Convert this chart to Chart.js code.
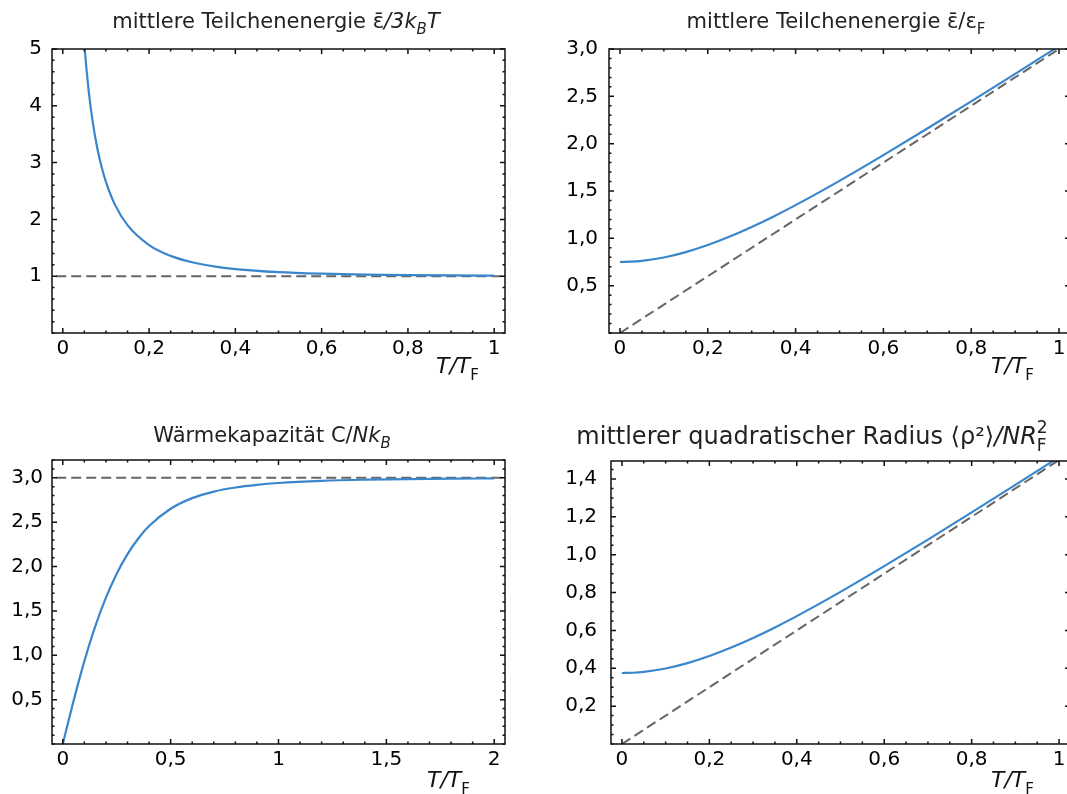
<!DOCTYPE html>
<html><head><meta charset="utf-8">
<script src="https://cdn.jsdelivr.net/npm/chart.js@4.4.1/dist/chart.umd.min.js"></script>
<style>
html,body{margin:0;padding:0;background:#fff;overflow:hidden;width:1067px;height:794px;}
.panel{position:absolute;}
canvas{display:block;}
</style></head><body>
<div class="panel" style="left:0;top:0"><canvas id="c1" width="530" height="400"></canvas></div>
<div class="panel" style="left:530px;top:0"><canvas id="c2" width="545" height="400"></canvas></div>
<div class="panel" style="left:0;top:400px"><canvas id="c3" width="530" height="394"></canvas></div>
<div class="panel" style="left:530px;top:400px"><canvas id="c4" width="545" height="394"></canvas></div>
<script>
// ---------- data ----------
const tEnergyKT   = [0.045,0.05,0.06,0.07,0.08,0.09,0.1,0.12,0.15,0.2,0.25,0.3,0.35,0.4,0.5,0.6,0.7,0.8,0.9,1.0];
const energyPerKT = [5.629,5.0816,4.2644,3.6850,3.2542,2.9224,2.6599,2.2731,1.8992,1.5486,1.3581,1.2447,1.1731,1.1259,1.0715,1.0438,1.0285,1.0195,1.0138,1.0102];

const tLinear     = [0,0.025,0.05,0.1,0.15,0.2,0.25,0.3,0.35,0.4,0.5,0.6,0.7,0.8,0.9,1.0];
const energyPerEF = [0.75,0.7531,0.7622,0.7980,0.8546,0.9292,1.0186,1.1202,1.2317,1.3511,1.6073,1.8788,2.1598,2.4467,2.7374,3.0305];
const radiusSq    = [0.375,0.3765,0.3811,0.3990,0.4273,0.4646,0.5093,0.5601,0.6159,0.6756,0.8036,0.9394,1.0799,1.2234,1.3687,1.5153];

const tHeat       = [0,0.025,0.05,0.1,0.15,0.2,0.25,0.3,0.35,0.4,0.5,0.6,0.7,0.8,0.9,1.0,1.2,1.4,1.6,1.8,2.0];
const heatCap     = [0,0.2458,0.4861,0.9341,1.3220,1.6487,1.9189,2.1389,2.3155,2.4554,2.6511,2.7704,2.8441,2.8901,2.9206,2.9410,2.9651,2.9778,2.9850,2.9894,2.9923];

// asymptotes (dashed)
const limKT_x = [-0.05, 1.05],  limKT_y = [1, 1];
const limEF_x = [0, 1.05],      limEF_y = [0, 3.15];
const limC_x  = [-0.1, 2.1],    limC_y  = [3, 3];
const limR_x  = [0, 1.05],      limR_y  = [0, 1.575];

// tick values and labels
const xTicksUnit  = [0,0.2,0.4,0.6,0.8,1];
const xLabelsUnit = ['0','0,2','0,4','0,6','0,8','1'];
const xTicksHeat  = [0,0.5,1,1.5,2];
const xLabelsHeat = ['0','0,5','1','1,5','2'];
const yTicksKT    = [1,2,3,4,5];
const yLabelsKT   = ['1','2','3','4','5'];
const yTicksEF    = [0.5,1,1.5,2,2.5,3];
const yLabelsEF   = ['0,5','1,0','1,5','2,0','2,5','3,0'];
const yTicksC     = [0.5,1,1.5,2,2.5,3];
const yLabelsC    = ['0,5','1,0','1,5','2,0','2,5','3,0'];
const yTicksR     = [0.2,0.4,0.6,0.8,1.0,1.2,1.4];
const yLabelsR    = ['0,2','0,4','0,6','0,8','1,0','1,2','1,4'];

// ---------- drawing ----------
const BLUE = 'rgb(58,134,204)';
const GRAY = '#666666';
const FONT = 'DejaVu Sans';
const zip = (xs, ys) => xs.map((x, i) => ({x: x, y: ys[i]}));

function fontStr(s, size){ return (s.it ? 'italic ' : '') + Math.round(s.small ? size*0.7 : size) + 'px "' + FONT + '"'; }
function drawRich(ctx, segs, size, x0, baseline, center){
  let w = 0, pend = 0;
  for (const s of segs){ ctx.font = fontStr(s, size); s.w = ctx.measureText(s.t).width;
    if (s.stack){ pend = s.w; } else { w += Math.max(s.w, pend); pend = 0; } }
  let x = center ? x0 - w/2 : x0; pend = 0;
  for (const s of segs){
    ctx.font = fontStr(s, size);
    const dy = s.sub ? size*0.3 : (s.sup ? -size*0.45 : 0);
    ctx.fillText(s.t, x, baseline + dy);
    if (s.stack){ pend = s.w; } else { x += Math.max(s.w, pend); pend = 0; }
  }
}

function ticksPlugin(p){
  return {
    id: 'frameTicks',
    afterDraw(chart){
      const ctx = chart.ctx, a = chart.chartArea, xs = chart.scales.x, ys = chart.scales.y;
      ctx.save();
      ctx.strokeStyle = '#111'; ctx.lineWidth = 1.5; ctx.lineCap = 'butt';
      ctx.beginPath();
      const seg = (x1,y1,x2,y2)=>{ ctx.moveTo(x1,y1); ctx.lineTo(x2,y2); };
      const xmarks = (step, len) => {
        for (let k = Math.ceil(p.xMin/step - 1e-9); k*step <= p.xMax + 1e-9; k++){
          const px = xs.getPixelForValue(k*step);
          seg(px, a.bottom, px, a.bottom - len); seg(px, a.top, px, a.top + len);
        }
      };
      const ymarks = (step, len) => {
        for (let k = Math.ceil(p.yMin/step - 1e-9); k*step <= p.yMax + 1e-9; k++){
          const py = ys.getPixelForValue(k*step);
          seg(a.left, py, a.left + len, py); seg(a.right, py, a.right - len, py);
        }
      };
      xmarks(p.xMinor, 2.5); ymarks(p.yMinor, 2.5);
      p.xTicks.forEach(v => { const px = xs.getPixelForValue(v); seg(px,a.bottom,px,a.bottom-5); seg(px,a.top,px,a.top+5); });
      p.yTicks.forEach(v => { const py = ys.getPixelForValue(v); seg(a.left,py,a.left+5,py); seg(a.right,py,a.right-5,py); });
      ctx.stroke();
      ctx.strokeRect(a.left, a.top, a.right - a.left, a.bottom - a.top);
      ctx.fillStyle = '#222'; ctx.textBaseline = 'alphabetic'; ctx.textAlign = 'left';
      drawRich(ctx, p.title, p.titleSize, p.titleX, p.titleY, true);
      ctx.fillStyle = '#111';
      drawRich(ctx, [{t:'T/T', it:true},{t:'F', small:true, sub:true}], 22, p.axisX, p.axisY, false);
      ctx.restore();
    }
  };
}

function makeChart(p){
  new Chart(document.getElementById(p.canvas), {
    type: 'scatter',
    data: { datasets: [
      { data: p.curve, showLine: true, borderColor: BLUE, borderWidth: 2.2, pointRadius: 0,
        cubicInterpolationMode: 'monotone', fill: false },
      { data: p.ref, showLine: true, borderColor: GRAY, borderWidth: 2, borderDash: [10,5],
        pointRadius: 0, fill: false }
    ]},
    options: {
      responsive: false, animation: false, events: [],
      layout: { padding: { top: p.padTop, right: p.padRight, left: 0, bottom: 0 } },
      plugins: { legend: {display:false}, tooltip: {enabled:false}, title: {display:false} },
      scales: {
        x: { type: 'linear', min: p.xMin, max: p.xMax,
             grid: {display:false, drawTicks:false}, border: {display:false},
             afterBuildTicks: s => { s.ticks = p.xTicks.map(v => ({value: v})); },
             afterFit: s => { s.height = p.xH; },
             ticks: { autoSkip:false, maxRotation:0, padding: p.xPad, color:'#000',
                      font:{family:FONT, size:20}, callback: (v, i) => p.xLabels[i] } },
        y: { type: 'linear', min: p.yMin, max: p.yMax,
             grid: {display:false, drawTicks:false}, border: {display:false},
             afterBuildTicks: s => { s.ticks = p.yTicks.map(v => ({value: v})); },
             afterFit: s => { s.width = p.yW; },
             ticks: { autoSkip:false, padding: p.yPad, color:'#000',
                      font:{family:FONT, size:20}, callback: (v, i) => p.yLabels[i] } }
      }
    },
    plugins: [ticksPlugin(p)]
  });
}

makeChart({ canvas:'c1', xMin:-0.025, xMax:1.025, yMin:0, yMax:5,
  xTicks:xTicksUnit, xLabels:xLabelsUnit, yTicks:yTicksKT, yLabels:yLabelsKT, xMinor:0.05, yMinor:0.2,
  padTop:49, padRight:25, yW:52, xH:67, xPad:4, yPad:10,
  curve: zip(tEnergyKT, energyPerKT), ref: zip(limKT_x, limKT_y),
  title:[{t:'mittlere Teilchenenergie '},{t:'\u03b5\u0304'},{t:'/3k', it:true},{t:'B', it:true, small:true, sub:true},{t:'T', it:true}],
  titleSize:21, titleX:276, titleY:28, axisX:436, axisY:373 });

makeChart({ canvas:'c2', xMin:-0.025, xMax:1.025, yMin:0, yMax:3,
  xTicks:xTicksUnit, xLabels:xLabelsUnit, yTicks:yTicksEF, yLabels:yLabelsEF, xMinor:0.05, yMinor:0.1,
  padTop:49, padRight:5, yW:79, xH:67, xPad:4, yPad:11,
  curve: zip(tLinear, energyPerEF), ref: zip(limEF_x, limEF_y),
  title:[{t:'mittlere Teilchenenergie '},{t:'\u03b5\u0304/\u03b5'},{t:'F', small:true, sub:true}],
  titleSize:21, titleX:306, titleY:28, axisX:461, axisY:373 });

makeChart({ canvas:'c3', xMin:-0.05, xMax:2.05, yMin:0, yMax:3.2,
  xTicks:xTicksHeat, xLabels:xLabelsHeat, yTicks:yTicksC, yLabels:yLabelsC, xMinor:0.1, yMinor:0.1,
  padTop:60, padRight:25, yW:52, xH:50, xPad:4, yPad:9,
  curve: zip(tHeat, heatCap), ref: zip(limC_x, limC_y),
  title:[{t:'W\u00e4rmekapazit\u00e4t C/'},{t:'Nk', it:true},{t:'B', it:true, small:true, sub:true}],
  titleSize:21, titleX:272, titleY:42, axisX:427, axisY:387 });

makeChart({ canvas:'c4', xMin:-0.025, xMax:1.025, yMin:0, yMax:1.495,
  xTicks:xTicksUnit, xLabels:xLabelsUnit, yTicks:yTicksR, yLabels:yLabelsR, xMinor:0.05, yMinor:0.05,
  padTop:61, padRight:5, yW:81, xH:50, xPad:4, yPad:14,
  curve: zip(tLinear, radiusSq), ref: zip(limR_x, limR_y),
  title:[{t:'mittlerer quadratischer Radius \u27e8\u03c1\u00b2\u27e9'},{t:'/NR', it:true},{t:'F', small:true, sub:true, stack:true},{t:'2', small:true, sup:true}],
  titleSize:24, titleX:282, titleY:44, axisX:461, axisY:387 });
</script>
</body></html>
